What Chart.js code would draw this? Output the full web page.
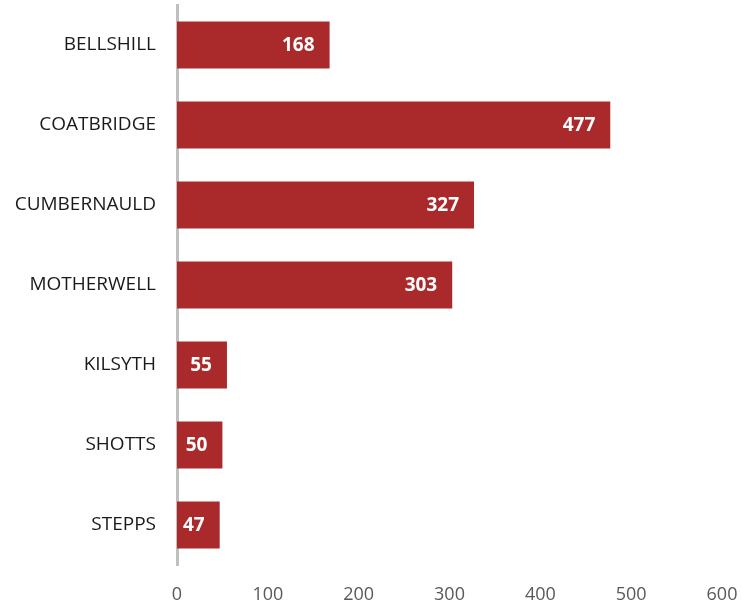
<!DOCTYPE html>
<html>
<head>
<meta charset="utf-8">
<script src="https://cdn.jsdelivr.net/npm/chart.js@4"></script>
<style>
  html, body { margin: 0; padding: 0; background: #fff; overflow: hidden; }
  canvas { display: block; }
</style>
</head>
<body>
<canvas id="barChart" width="742" height="607"></canvas>
<script>
const towns = ['BELLSHILL', 'COATBRIDGE', 'CUMBERNAULD', 'MOTHERWELL', 'KILSYTH', 'SHOTTS', 'STEPPS'];
const counts = [168, 477, 327, 303, 55, 50, 47];
const xTicks = [0, 100, 200, 300, 400, 500, 600];

// white value labels just inside the end of each bar
const barLabels = {
    id: 'barLabels',
    afterDatasetsDraw(chart) {
        const ctx = chart.ctx;
        const meta = chart.getDatasetMeta(0);
        ctx.save();
        ctx.font = 'bold 19px "Open Sans"';
        ctx.fillStyle = '#ffffff';
        ctx.textAlign = 'right';
        ctx.textBaseline = 'middle';
        meta.data.forEach((bar, i) => {
            ctx.fillText(String(counts[i]), bar.x - 15, bar.y + 1);
        });
        ctx.restore();
    }
};

// drop the extra room chart.js keeps for overhanging tick labels
function noOverhang(scale) {
    scale.paddingLeft = 0;
    scale.paddingRight = 0;
    scale.paddingTop = 0;
    scale.paddingBottom = 0;
}

const ctx = document.getElementById('barChart').getContext('2d');
new Chart(ctx, {
    type: 'bar',
    data: {
        labels: towns,
        datasets: [{
            data: counts,
            backgroundColor: '#AA2A2C',
            borderWidth: 0,
            categoryPercentage: 0.59,
            barPercentage: 1.0
        }]
    },
    options: {
        indexAxis: 'y',
        responsive: false,
        animation: false,
        layout: { padding: { top: 5, right: 20, left: 0, bottom: 0 } },
        scales: {
            x: {
                min: 0,
                max: 600,
                afterBuildTicks: scale => { scale.ticks = xTicks.map(v => ({ value: v })); },
                afterFit: scale => { scale.height = 42; noOverhang(scale); },
                grid: { display: false },
                border: { display: false },
                ticks: {
                    padding: 11,
                    color: '#595959',
                    font: { family: 'Open Sans', size: 18 }
                }
            },
            y: {
                afterFit: scale => { scale.width = 177; noOverhang(scale); },
                grid: { display: true, drawOnChartArea: false, drawTicks: false },
                border: { display: true, color: '#BFBFBF', width: 3 },
                ticks: {
                    padding: 21,
                    color: '#1a1a1a',
                    font: { family: 'Open Sans', size: 19 }
                }
            }
        },
        plugins: {
            legend: { display: false },
            tooltip: { enabled: false }
        }
    },
    plugins: [barLabels]
});
</script>
</body>
</html>
